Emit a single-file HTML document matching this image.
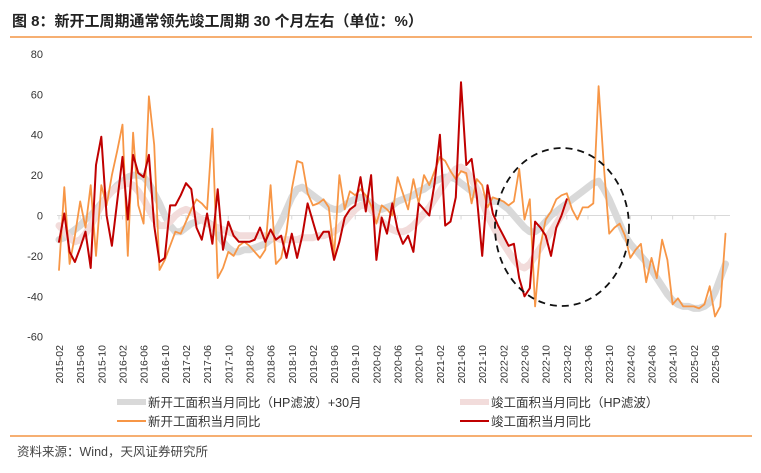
<!DOCTYPE html>
<html><head><meta charset="utf-8">
<style>
body{margin:0;background:#fff;}
svg{display:block;font-family:"Liberation Sans","Noto Sans CJK SC",sans-serif;}
</style></head>
<body>
<svg id="chart" width="761" height="473" viewBox="0 0 761 473">
<text x="12" y="26" font-size="15" font-weight="bold" fill="#222">图 8：新开工周期通常领先竣工周期 30 个月左右（单位：%）</text>
<line x1="10" y1="37" x2="752" y2="37" stroke="#f07f1e" stroke-width="1.2"/>
<line x1="10" y1="436" x2="752" y2="436" stroke="#f07f1e" stroke-width="1.2"/>
<text x="17" y="456" font-size="12.5" fill="#444">资料来源：Wind，天风证券研究所</text>
<g id="axes"></g>
<g id="series"></g>
<ellipse cx="562" cy="227" rx="67" ry="79" fill="none" stroke="#111" stroke-width="1.8" stroke-dasharray="7,5"/>
<g id="legend">
<line x1="117" y1="402" x2="146" y2="402" stroke="#d9d9d9" stroke-width="6"/>
<text x="148" y="407" font-size="12.5" fill="#333">新开工面积当月同比（HP滤波）+30月</text>
<line x1="460" y1="402" x2="489" y2="402" stroke="#f2dcdb" stroke-width="6"/>
<text x="491" y="407" font-size="12.5" fill="#333">竣工面积当月同比（HP滤波）</text>
<line x1="117" y1="421" x2="146" y2="421" stroke="#f79646" stroke-width="2"/>
<text x="148" y="426" font-size="12.5" fill="#333">新开工面积当月同比</text>
<line x1="460" y1="421" x2="489" y2="421" stroke="#c00000" stroke-width="2"/>
<text x="491" y="426" font-size="12.5" fill="#333">竣工面积当月同比</text>
</g>
</svg>
<script>
const yTicks = [80,60,40,20,0,-20,-40,-60];
const startMonth = {year:2015, month:2};
const nMonths = 127;
const startHP30 = [-12,-11,-9,-7,-5,-2,0,3,6,9,
12,15,17,19,20,20,19,16,11,6,
0,-5,-8,-8,-6,-4,-3,-2,-3,-5,
-9,-13,-16,-18,-18,-17,-17,-16,-15,-14,
-12,-8,-3,3,9,13,14,12,10,8,
6,4,3,3,5,7,8,9,8,6,
4,3,4,5,7,8,9,10,12,13,
15,17,18,19,19,18,16,14,12,10,
9,8,7,7,5,3,0,-3,-6,-8,
-8,-6,-3,0,2,4,6,8,10,12,
14,16,17,13,8,2,-4,-10,-14,-17,
-20,-23,-27,-31,-35,-39,-42,-44,-45,-45,
-46,-46,-45,-43,-38,-31,-24];
const completionHP = [-5,-8,-11,-13,-12,-9,-5,0,5,9,
12,14,15,16,15,12,8,3,-2,-5,
-5,-3,0,2,3,2,0,-2,-4,-5,
-6,-7,-8,-9,-10,-10,-10,-10,-10,-10,
-11,-11,-12,-12,-12,-12,-11,-11,-11,-10,
-10,-9,-8,-6,-3,0,3,5,5,3,
0,-3,-5,-7,-8,-8,-7,-5,-2,1,
4,8,12,16,20,23,24,22,18,13,
7,0,-5,-10,-14,-18,-22,-25,-26,-24,
-20,-16,-12,-8,-4,0,4];
const startYoY = [-27,14,-24,-10,7,-6,15,-20,15,5,
20,32,45,-20,41,5,-4,59,35,-27,
-22,-15,-8,-9,-3,3,8,6,3,43,
-31,-26,-18,-20,-15,-13,-15,-18,-21,-17,
15,-24,-21,-8,13,27,26,11,5,6,
8,4,-20,20,3,12,10,13,10,5,
-4,5,3,0,19,11,3,18,6,20,
15,22,29,27,22,18,22,21,6,18,
15,4,9,8,7,5,7,23,-2,8,
-45,-15,-2,2,8,10,11,3,-2,4,
4,6,64,24,-9,-6,-4,-10,-21,-17,
-14,-33,-21,-31,-12,-22,-44,-41,-45,-45,
-45,-46,-44,-35,-50,-45,-9];
const completionYoY = [-13,1,-18,-23,-16,-8,-26,25,39,0,
-15,7,29,-2,30,21,19,30,-5,-23,
-21,5,5,10,16,13,-6,-12,1,-14,
13,-17,-3,-10,-13,-13,-13,-12,-6,-13,
-7,-12,-10,-21,-9,-21,-10,6,-3,-12,
-8,-8,-22,-13,-1,3,5,19,2,20,
-22,-1,-9,6,-7,-14,-10,-18,6,3,
0,16,40,-5,-3,9,66,25,28,9,
-20,15,1,-5,-10,-15,-14,-31,-40,-36,
-3,-6,-10,-20,-6,0,8];

const NS = "http://www.w3.org/2000/svg";
function xPos(i){ return 59 + i * 5.29; }
function yPos(v){ return 215.5 - v * 2.02; }
function monthLabel(i){
  const t = startMonth.month - 1 + i;
  const y = startMonth.year + Math.floor(t/12);
  const m = t % 12 + 1;
  return y + "-" + (m<10?"0":"") + m;
}
const axes = document.getElementById("axes");
yTicks.forEach(v=>{
  const t = document.createElementNS(NS,"text");
  t.setAttribute("x", 43); t.setAttribute("y", yPos(v)+4);
  t.setAttribute("text-anchor","end"); t.setAttribute("font-size","11"); t.setAttribute("fill","#333");
  t.textContent = v;
  
  
  axes.appendChild(t);
});
const zl = document.createElementNS(NS,"line");
zl.setAttribute("x1",57); zl.setAttribute("x2",730);
zl.setAttribute("y1",yPos(0)); zl.setAttribute("y2",yPos(0));
zl.setAttribute("stroke","#d9d9d9"); zl.setAttribute("stroke-width","1");


axes.appendChild(zl);
for(let i=0;i<nMonths;i+=4){
  const x = xPos(i);
  const tk = document.createElementNS(NS,"line");
  tk.setAttribute("x1",x); tk.setAttribute("x2",x);
  tk.setAttribute("y1",yPos(0)); tk.setAttribute("y2",yPos(0)+4);
  tk.setAttribute("stroke","#d9d9d9");
  
  
  axes.appendChild(tk);
  const t = document.createElementNS(NS,"text");
  t.setAttribute("transform","translate("+(x+4)+",345) rotate(-90)");
  t.setAttribute("text-anchor","end"); t.setAttribute("font-size","10.5"); t.setAttribute("fill","#333");
  t.textContent = monthLabel(i);
  
  
  axes.appendChild(t);
}
const series = document.getElementById("series");
function addLine(arr, color, width, name){
  const p = document.createElementNS(NS,"polyline");
  p.setAttribute("points", arr.map((v,i)=>xPos(i).toFixed(1)+","+yPos(v).toFixed(1)).join(" "));
  p.setAttribute("fill","none"); p.setAttribute("stroke",color);
  p.setAttribute("stroke-width",width); p.setAttribute("stroke-linejoin","round"); p.setAttribute("stroke-linecap","round");
  
  
  series.appendChild(p);
}
addLine(startHP30, "#d9d9d9", 7, "start-hp-30m-line");
addLine(completionHP, "#f2dcdb", 7, "completion-hp-line");
addLine(startYoY, "#f79646", 1.8, "start-yoy-line");
addLine(completionYoY, "#c00000", 2, "completion-yoy-line");
</script>
</body></html>
